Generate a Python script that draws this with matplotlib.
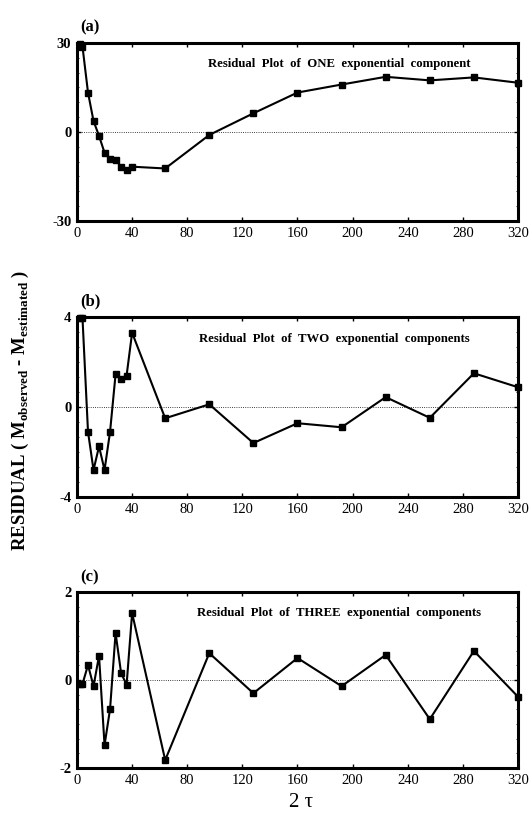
import matplotlib
matplotlib.use('Agg')
import matplotlib.pyplot as plt
import numpy as np

matplotlib.rcParams['font.family'] = 'Liberation Serif'
matplotlib.rcParams['mathtext.fontset'] = 'custom'
matplotlib.rcParams['mathtext.rm'] = 'Liberation Serif'
matplotlib.rcParams['mathtext.bf'] = 'Liberation Serif:bold'

# 2*tau values (same for all three panels)
two_tau = [2, 4, 8, 12, 16, 20, 24, 28, 32, 36, 40, 64, 96, 128, 160, 192, 224, 256, 288, 320]

# residuals, one, two and three exponential components
resid_one = [29.5, 28.8, 13.3, 3.7, -1.3, -7.0, -9.0, -9.3, -11.7, -12.7, -11.7, -12.3, -1.0, 6.3,
             13.3, 16.0, 18.6, 17.4, 18.4, 16.6]
resid_two = [3.95, 3.95, -1.1, -2.8, -1.75, -2.8, -1.1, 1.45, 1.25, 1.4, 3.3, -0.5, 0.12, -1.6,
             -0.72, -0.9, 0.44, -0.48, 1.5, 0.88]
resid_three = [-0.09, -0.09, 0.34, -0.14, 0.55, -1.48, -0.66, 1.07, 0.16, -0.11, 1.52, -1.82, 0.61, -0.3,
               0.5, -0.14, 0.57, -0.89, 0.66, -0.38]

panels = [
	('(a)', resid_one, 30, 'Residual  Plot  of  ONE  exponential  component'),
	('(b)', resid_two, 4, 'Residual  Plot  of  TWO  exponential  components'),
	('(c)', resid_three, 2, 'Residual  Plot  of  THREE  exponential  components'),
]
title_x = [0.297, 0.277, 0.273]

fig = plt.figure(figsize=(5.32, 8.16), dpi=100)

# axes boxes in figure fraction (left, bottom, width, height)
boxes = [(0.1447, 0.7292, 0.829, 0.2181),
         (0.1447, 0.3909, 0.829, 0.2206),
         (0.1447, 0.0588, 0.829, 0.2157)]

for (tag, resid, lim, title), box, tx in zip(panels, boxes, title_x):
	ax = fig.add_axes(box)
	ax.axhline(0, color='k', lw=0.6, ls=':', zorder=1)
	ax.plot(two_tau, resid, color='k', lw=1.5, marker='s', ms=4, zorder=3, clip_on=False)
	ax.set_xlim(0, 320)
	ax.set_ylim(-lim, lim)
	ax.set_xticks(np.arange(0, 321, 40))
	ax.set_yticks([-lim, 0, lim])
	ax.set_yticks(np.linspace(-lim, lim, 13), minor=True)
	ax.set_yticklabels(['-%d' % lim, '0', '%d' % lim], fontweight='bold', fontsize=10.5)
	ax.tick_params(axis='x', direction='in', top=True, length=3, width=1, labelsize=10.5, pad=4)
	ax.tick_params(axis='y', which='major', direction='in', right=True, length=3, width=1, pad=4)
	ax.tick_params(axis='y', which='minor', direction='in', right=True, length=1.5, width=0.6)
	for sp in ax.spines.values():
		sp.set_linewidth(2.2)
	ax.text(tx, 0.88, title, transform=ax.transAxes, fontsize=9.2, fontweight='bold', ha='left', va='center')
	ax.text(0.007, 1.04, tag, transform=ax.transAxes, fontsize=12, fontweight='bold', ha='left', va='bottom')

fig.text(0.038, 0.497, r'RESIDUAL ( M$_{\mathbf{observed}}$ - M$_{\mathbf{estimated}}$ )',
         rotation=90, ha='center', va='center', fontsize=13.5, fontweight='bold')
fig.text(0.565, 0.016, '2 \u03c4', ha='center', va='center', fontsize=15)

plt.savefig('out.png', dpi=100)
